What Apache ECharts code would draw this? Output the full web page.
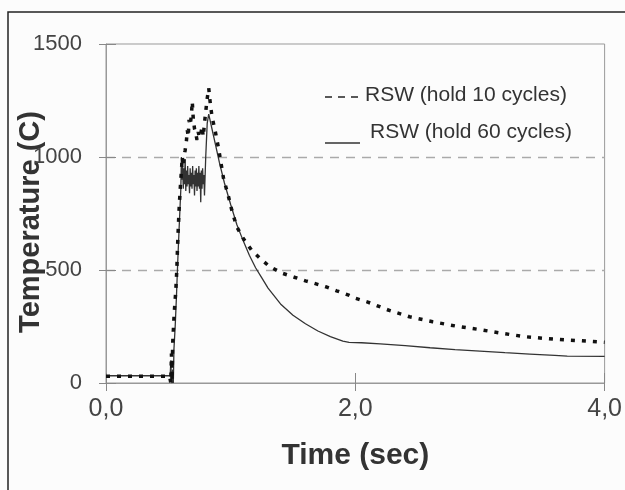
<!DOCTYPE html>
<html>
<head>
<meta charset="utf-8">
<script src="https://cdn.jsdelivr.net/npm/echarts@6/dist/echarts.min.js"></script>
<style>
html,body{margin:0;padding:0;background:#fcfcfc;}
#c{width:625px;height:490px;}
</style>
</head>
<body>
<div id="c"></div>
<script>
// ---- data ----
const seriesNames = ['RSW (hold 10 cycles)', 'RSW (hold 60 cycles)'];
const xTicks = [0, 2, 4];
const yTicks = [0, 500, 1000, 1500];
const xTitle = 'Time (sec)';
const yTitle = 'Temperature (C)';

// [time (sec), temperature (C)]
const hold10 = [
  [0,30],[0.51,30],[0.52,0],[0.525,130],[0.53,10],[0.535,176],[0.547,308],[0.56,411],[0.568,500],
  [0.573,588],[0.578,662],[0.586,765],[0.594,846],[0.605,940],[0.612,1000],[0.62,960],[0.628,1010],
  [0.635,1030],[0.645,1070],[0.652,1119],[0.66,1090],[0.666,1164],[0.675,1140],[0.685,1185],
  [0.692,1245],[0.70,1170],[0.71,1125],[0.72,1105],[0.73,1075],[0.74,1110],[0.75,1085],[0.758,1097],
  [0.771,1134],[0.78,1090],[0.79,1150],[0.80,1200],[0.81,1252],[0.824,1305],[0.837,1235],[0.85,1180],
  [0.877,1112],[0.903,1038],[0.943,905],[0.983,824],[1.009,765],[1.048,692],[1.1,640],[1.167,588],
  [1.234,552],[1.313,515],[1.418,485],[1.511,468],[1.6,452],[1.67,441],[1.761,426],[1.85,408],
  [1.947,389],[2.0,375],[2.1,358],[2.264,323],[2.435,293],[2.62,271],[2.805,252],[2.99,237],
  [3.175,220],[3.36,205],[3.5,198],[3.623,193],[3.809,187],[4.0,180]
];
const hold60 = [
  [0,32],[0.515,32],[0.52,100],[0.525,10],[0.53,0],[0.535,60],[0.54,0],[0.545,150],[0.555,250],
  [0.565,380],[0.575,530],[0.586,677],[0.60,854],[0.605,1000],[0.61,900],[0.615,960],[0.62,860],
  [0.625,950],[0.63,880],[0.635,990],[0.64,850],[0.645,940],[0.65,870],[0.655,960],[0.66,880],
  [0.665,920],[0.67,840],[0.675,950],[0.68,870],[0.685,930],[0.69,860],[0.695,960],[0.70,880],
  [0.705,920],[0.71,830],[0.715,940],[0.72,870],[0.725,950],[0.73,850],[0.735,930],[0.74,870],
  [0.745,960],[0.75,860],[0.755,930],[0.76,800],[0.765,940],[0.77,860],[0.775,950],[0.78,880],
  [0.785,920],[0.79,830],[0.80,1000],[0.812,1150],[0.824,1190],[0.85,1125],[0.88,1050],[0.91,975],
  [0.95,885],[1.0,790],[1.05,700],[1.1,630],[1.15,565],[1.2,510],[1.25,465],[1.3,420],[1.4,350],
  [1.5,300],[1.6,262],[1.7,230],[1.8,205],[1.9,185],[1.95,180],[2.05,178],[2.2,173],[2.4,165],
  [2.6,156],[2.8,148],[3.0,141],[3.2,134],[3.4,128],[3.6,122],[3.7,119],[4.0,118]
];

// ---- chart ----
const FONT = '"Liberation Sans", Arial, sans-serif';
const chart = echarts.init(document.getElementById('c'), null, {renderer: 'canvas'});
const xMin = xTicks[0], xMax = xTicks[xTicks.length - 1], xInt = xTicks[1] - xTicks[0];
const yMin = yTicks[0], yMax = yTicks[yTicks.length - 1], yInt = yTicks[1] - yTicks[0];

const txt = (t, x, y, size, weight) => ({
  type: 'text', x: x, y: y,
  style: {text: t, font: (weight || 'normal') + ' ' + size + 'px ' + FONT, fill: '#333',
          textAlign: 'left', textVerticalAlign: 'middle', align: 'left', verticalAlign: 'middle'}
});

chart.setOption({
  animation: false,
  backgroundColor: '#fcfcfc',
  grid: {left: 106, right: 14, top: 44, bottom: 107, show: true, borderColor: '#999', borderWidth: 1, backgroundColor: 'transparent'},
  graphic: [
    {type: 'rect', z: -10, shape: {x: 8, y: 12, width: 660, height: 520}, style: {fill: 'none', stroke: '#222', lineWidth: 1.5}},
    {type: 'text', x: 31, y: 222, rotation: Math.PI / 2,
     style: {text: yTitle, font: 'bold 29px ' + FONT, fill: '#333',
             textAlign: 'center', textVerticalAlign: 'middle', align: 'center', verticalAlign: 'middle'}},
    // legend
    {type: 'line', shape: {x1: 325, y1: 97, x2: 358, y2: 97}, style: {stroke: '#222', lineWidth: 1.6, lineDash: [7, 6]}},
    txt(seriesNames[0], 365, 95, 21),
    {type: 'line', shape: {x1: 325, y1: 143, x2: 360, y2: 143}, style: {stroke: '#333', lineWidth: 1.3}},
    txt(seriesNames[1], 370, 132, 21)
  ],
  xAxis: [
    {type: 'value', min: xMin, max: xMax, interval: xInt,
     axisLine: {lineStyle: {color: '#999', width: 1}},
     axisTick: {inside: true, length: 10, lineStyle: {color: '#888'}},
     axisLabel: {fontSize: 25, fontFamily: FONT, color: '#444', margin: 14,
                 formatter: v => v.toFixed(1).replace('.', ',')},
     splitLine: {show: false},
     name: xTitle, nameLocation: 'middle', nameGap: 58,
     nameTextStyle: {fontSize: 30, fontWeight: 'bold', fontFamily: FONT, color: '#333'}},
    {type: 'value', min: xMin, max: xMax, interval: xInt, position: 'bottom',
     axisLine: {show: false}, axisTick: {inside: false, length: 8, lineStyle: {color: '#888'}},
     axisLabel: {show: false}, splitLine: {show: false}}
  ],
  yAxis: [
    {type: 'value', min: yMin, max: yMax, interval: yInt,
     axisLine: {show: true, lineStyle: {color: '#999', width: 1}},
     axisTick: {show: true, inside: false, length: 7, lineStyle: {color: '#888'}},
     axisLabel: {fontSize: 22, fontFamily: FONT, color: '#444', margin: 24, formatter: v => String(v)},
     splitLine: {show: true, showMinLine: false, showMaxLine: false,
                 lineStyle: {type: [9, 7], color: '#aaa', width: 1.3}}},
    {type: 'value', min: yMin, max: yMax, interval: yInt, position: 'left',
     axisLine: {show: false}, axisTick: {show: true, inside: true, length: 10, lineStyle: {color: '#888'}},
     axisLabel: {show: false}, splitLine: {show: false}}
  ],
  series: [
    {name: seriesNames[0], type: 'line', data: hold10, symbol: 'none', showSymbol: false,
     xAxisIndex: 0, yAxisIndex: 0, z: 3,
     lineStyle: {color: '#111', width: 3.5, type: [4, 7], cap: 'butt'}, itemStyle: {color: '#111'}},
    {name: seriesNames[1], type: 'line', data: hold60, symbol: 'none', showSymbol: false,
     xAxisIndex: 0, yAxisIndex: 0, z: 2,
     lineStyle: {color: '#333', width: 1.3}, itemStyle: {color: '#333'}}
  ]
});
</script>
</body>
</html>
